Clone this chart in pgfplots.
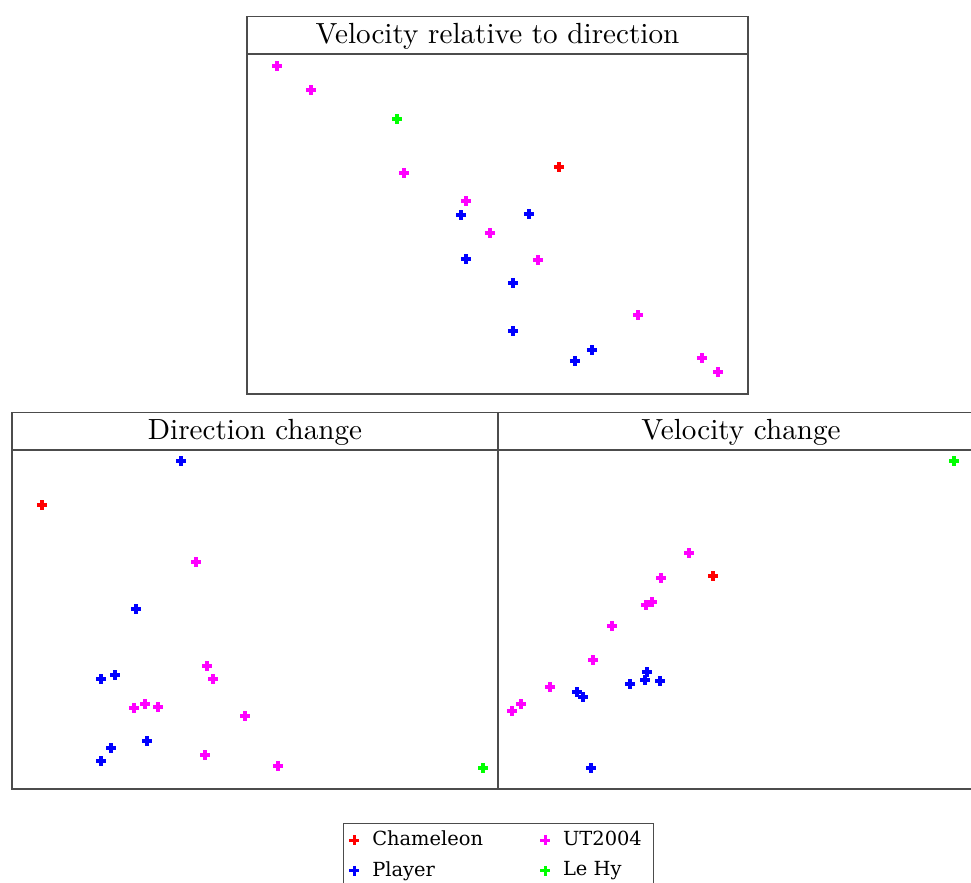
\documentclass[border=0pt]{standalone}
\usepackage{pgfplots}
\pgfplotsset{compat=1.18}
\usepackage{fontspec}
\newfontfamily\legfont{DejaVu Serif}

% one reference pixel = 0.35pt
\definecolor{frame}{gray}{0.3}
\definecolor{mag}{RGB}{255,0,255}
\definecolor{grn}{RGB}{0,255,0}
\definecolor{rd}{RGB}{255,0,0}
\definecolor{bl}{RGB}{0,0,255}
\pgfplotsset{
  panel/.style={
    scale only axis,
    xtick=\empty, ytick=\empty,
    axis line style={frame, line width=0.5pt},
    every axis plot/.append style={only marks, mark=+, mark size=1.75pt,
      mark options={line width=1.1pt}},
    every axis title/.style={at={(0.5,1)}, anchor=south, draw=frame, line width=0.5pt,
      inner sep=0pt, minimum height=12.95pt, text depth=0.25ex,
      font=\fontsize{10.2}{12}\selectfont},
  },
}

\begin{document}
\begin{tikzpicture}
% top panel
\begin{axis}[panel,
    at={(86.45pt,-137.9pt)}, anchor=south west,
    width=175.35pt, height=119pt,
    xmin=247, xmax=748, ymin=-394, ymax=-54,
    title={Velocity relative to direction},
    title style={minimum width=175.35pt},
  ]
  \addplot[rd] coordinates {(559,-167)};
  \addplot[mag] coordinates {(277,-66)(311,-90)(404,-173)(466,-201)(490,-233)
    (538,-260)(638,-315)(702,-358)(718,-372)};
  \addplot[bl] coordinates {(461,-215)(529,-214)(466,-259)(513,-283)(513,-331)
    (592,-350)(575,-361)};
  \addplot[grn] coordinates {(397,-119)};
\end{axis}

% bottom left panel
\begin{axis}[panel,
    at={(4.2pt,-276.15pt)}, anchor=south west,
    width=170.1pt, height=118.65pt,
    xmin=12, xmax=498, ymin=-789, ymax=-450,
    title={Direction change},
    title style={minimum width=170.1pt},
    legend columns=2,
    legend cell align=left,
    legend style={at={(0.681,-0.1)}, anchor=north west, draw=frame,
      line width=0.5pt, font=\legfont\fontsize{6.8}{8}\selectfont,
      inner xsep=2pt, inner ysep=0.5pt, row sep=0pt,
      /tikz/every odd column/.append style={column sep=2.5pt},
      /tikz/every even column/.append style={column sep=18pt}},
  ]
  \addplot[rd] coordinates {(42,-505)};
  \addlegendentry{Chameleon}
  \addplot[mag] coordinates {(196,-562)(207,-666)(213,-679)(134,-708)(145,-704)
    (158,-707)(245,-716)(205,-755)(278,-766)};
  \addlegendentry{UT2004}
  \addplot[bl] coordinates {(181,-461)(136,-609)(101,-679)(115,-675)(147,-741)
    (111,-748)(101,-761)};
  \addlegendentry{Player}
  \addplot[grn] coordinates {(483,-768)};
  \addlegendentry{Le Hy}
\end{axis}

% bottom right panel
\begin{axis}[panel,
    at={(174.3pt,-276.15pt)}, anchor=south west,
    width=170.1pt, height=118.65pt,
    xmin=498, xmax=984, ymin=-789, ymax=-450,
    title={Velocity change},
    title style={minimum width=170.1pt},
  ]
  \addplot[rd] coordinates {(713,-576)};
  \addplot[mag] coordinates {(689,-553)(661,-578)(652,-602)(646,-605)(612,-626)
    (593,-660)(550,-687)(521,-704)(512,-711)};
  \addplot[bl] coordinates {(577,-692)(583,-697)(630,-684)(647,-672)(645,-680)
    (660,-681)(591,-768)};
  \addplot[grn] coordinates {(954,-461)};
\end{axis}

\pgfresetboundingbox
\useasboundingbox (0,0) rectangle (339.85pt,-308.7pt);
\end{tikzpicture}
\end{document}
